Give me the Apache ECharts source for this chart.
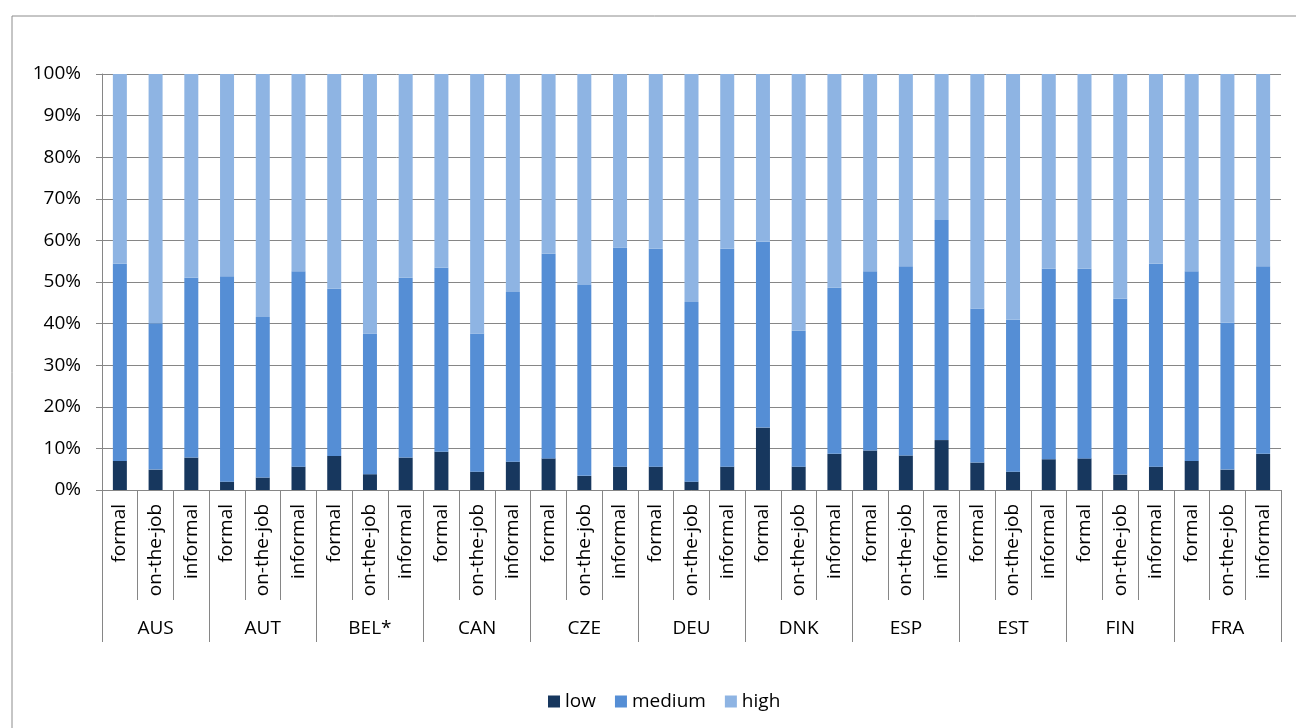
<!DOCTYPE html>
<html>
<head>
<meta charset="utf-8">
<style>
  html, body { margin: 0; padding: 0; background: #ffffff; }
  #chart { width: 1296px; height: 728px; }
</style>
<script src="https://cdn.jsdelivr.net/npm/echarts@6/dist/echarts.min.js"></script>
</head>
<body>
<div id="chart"></div>
<script>
// Countries (outer axis level) and learning types (inner axis level)
const countries = ['AUS', 'AUT', 'BEL*', 'CAN', 'CZE', 'DEU', 'DNK', 'ESP', 'EST', 'FIN', 'FRA'];
const learningTypes = ['formal', 'on-the-job', 'informal'];

// Share of participants by proficiency level, one value per country x learning type (percent)
const low = [
  7.0, 4.9, 7.8,
  2.0, 3.0, 5.6,
  8.2, 3.8, 7.8,
  9.2, 4.4, 6.8,
  7.6, 3.4, 5.6,
  5.6, 2.0, 5.6,
  15.0, 5.6, 8.7,
  9.5, 8.3, 12.0,
  6.6, 4.4, 7.4,
  7.6, 3.7, 5.6,
  7.0, 4.9, 8.7
];
const medium = [
  47.4, 35.2, 43.2,
  49.4, 38.6, 47.0,
  40.2, 33.8, 43.2,
  44.2, 33.2, 40.8,
  49.2, 45.9, 52.7,
  52.4, 43.2, 52.4,
  44.7, 32.7, 39.9,
  43.1, 45.5, 52.9,
  37.0, 36.5, 45.8,
  45.6, 42.3, 48.8,
  45.6, 35.3, 45.1
];
const high = [
  45.6, 59.9, 49.0,
  48.6, 58.4, 47.4,
  51.6, 62.4, 49.0,
  46.6, 62.4, 52.4,
  43.2, 50.7, 41.7,
  42.0, 54.8, 42.0,
  40.3, 61.7, 51.4,
  47.4, 46.2, 35.1,
  56.4, 59.1, 46.8,
  46.8, 54.0, 45.6,
  47.4, 59.8, 46.2
];
const yTicks = [0, 10, 20, 30, 40, 50, 60, 70, 80, 90, 100];

// Inner category list: each country repeats the three learning types
const innerCats = [];
countries.forEach(function () { learningTypes.forEach(function (t) { innerCats.push(t); }); });

const FONT = '"Open Sans", "Noto Sans", sans-serif';
const FONT_SIZE = 19;
const GRID_COLOR = '#868686';
const TEXT_COLOR = '#000000';

const chart = echarts.init(document.getElementById('chart'), null, { renderer: 'canvas' });

function barSeries(name, data, color) {
  return {
    name: name,
    type: 'bar',
    stack: 'share',
    data: data,
    barWidth: 14,
    xAxisIndex: 0,
    yAxisIndex: 0,
    itemStyle: { color: color },
    emphasis: { disabled: true }
  };
}

chart.setOption({
  animation: false,
  backgroundColor: '#ffffff',
  textStyle: { fontFamily: FONT, color: TEXT_COLOR },
  graphic: [{
    type: 'rect',
    left: 9.5,
    top: 13.5,
    shape: { x: 0, y: 0, width: 1400, height: 800 },
    style: { fill: 'none', stroke: '#8c8c8c', lineWidth: 1 },
    silent: true,
    z: -10
  }],
  grid: { left: 102, right: 15, top: 74, bottom: 238, containLabel: false },
  legend: {
    top: 687,
    left: 543,
    icon: 'rect',
    itemWidth: 12,
    itemHeight: 12,
    itemGap: 19,
    selectedMode: false,
    textStyle: { fontFamily: FONT, fontSize: FONT_SIZE, color: TEXT_COLOR, padding: [0, 0, 0, 0] },
    data: ['low', 'medium', 'high']
  },
  xAxis: [
    {
      type: 'category',
      position: 'bottom',
      data: innerCats,
      axisLine: { show: true, lineStyle: { color: GRID_COLOR, width: 1 } },
      axisTick: { show: true, interval: 0, length: 110, lineStyle: { color: GRID_COLOR, width: 1 } },
      axisLabel: {
        interval: 0,
        rotate: 90,
        margin: 14,
        fontFamily: FONT,
        fontSize: FONT_SIZE,
        color: TEXT_COLOR
      },
      splitLine: { show: false }
    },
    {
      type: 'category',
      position: 'bottom',
      data: countries,
      axisLine: { show: false },
      axisTick: { show: true, interval: 0, length: 152, lineStyle: { color: GRID_COLOR, width: 1 } },
      axisLabel: {
        interval: 0,
        margin: 129,
        fontFamily: FONT,
        fontSize: FONT_SIZE,
        color: TEXT_COLOR
      },
      splitLine: { show: false }
    }
  ],
  yAxis: {
    type: 'value',
    min: yTicks[0],
    max: yTicks[yTicks.length - 1],
    interval: yTicks[1] - yTicks[0],
    axisLine: { show: true, lineStyle: { color: GRID_COLOR, width: 1 } },
    axisTick: { show: true, length: 6, lineStyle: { color: GRID_COLOR, width: 1 } },
    axisLabel: {
      margin: 21,
      fontFamily: FONT,
      fontSize: FONT_SIZE,
      color: TEXT_COLOR,
      formatter: '{value}%'
    },
    splitLine: { show: true, lineStyle: { color: GRID_COLOR, width: 1 } }
  },
  series: [
    barSeries('low', low, '#17375E'),
    barSeries('medium', medium, '#558ED5'),
    barSeries('high', high, '#8EB4E3')
  ]
});
</script>
</body>
</html>
